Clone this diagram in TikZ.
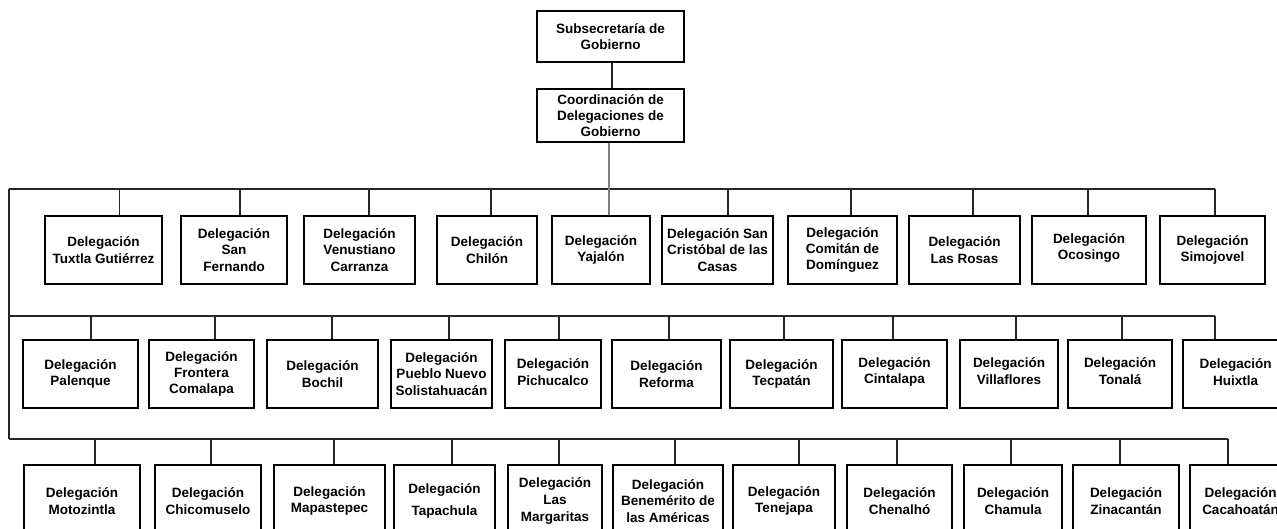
\documentclass[tikz,border=0pt]{standalone}
\usepackage{fontspec}
\setmainfont{Liberation Sans}
\begin{document}
\begin{tikzpicture}[x=1pt,y=-1pt,
  box/.style={draw=black, line width=1.6pt, fill=white, align=center, inner sep=0pt, text=black},
  label/.style={font=\bfseries\fontsize{13.5}{16.4}\selectfont, align=center, inner sep=0pt, text=black},
  conn/.style={draw=black!85, line width=1.3pt},
  graylink/.style={draw=black!50, line width=1.2pt}]
\useasboundingbox (0,0) rectangle (1277,529);
\clip (0,0) rectangle (1277,529);
% top boxes
\node[box, font=\bfseries\fontsize{13.5}{16.2}\selectfont, minimum width=147pt, minimum height=51pt] (sub) at (610.5,36.5) {Subsecretaría de\\Gobierno};
\node[box, font=\bfseries\fontsize{13.5}{16.2}\selectfont, minimum width=147pt, minimum height=53pt] (coord) at (610.5,115.5) {Coordinación de\\Delegaciones de\\Gobierno};
\draw[conn] ([xshift=1.5pt]sub.south) -- ([xshift=1.5pt]coord.north);
% buses
\coordinate (busL1) at (9,189);  \coordinate (busR1) at (1215,189);
\coordinate (busL2) at (9,316);  \coordinate (busR2) at (1215,316);
\coordinate (busL3) at (9,439);  \coordinate (busR3) at (1228,439);
\draw[conn] (busL1) -- (busR1);
\draw[conn] (busL2) -- (busR2);
\draw[conn] (busL3) -- (busR3);
\draw[conn] (busL1) -- (busL3);
% row 1
\foreach \n/\l/\r/\dy/\t in {
 r1a/45/162/0/{Delegación\\Tuxtla Gutiérrez},
 r1b/181/287/0/{Delegación\\San\\Fernando},
 r1c/304/415/0/{Delegación\\Venustiano\\Carranza},
 r1d/437/537/0/{Delegación\\Chilón},
 r1e/552/650/0/{Delegación\\Yajalón},
 r1f/662/773/0/{Delegación San\\Cristóbal de las\\Casas},
 r1g/788/897/0/{Delegación\\Comitán de\\Domínguez},
 r1h/909/1020/0/{Delegación\\Las Rosas},
 r1i/1032/1146/-2/{Delegación\\Ocosingo},
 r1j/1160/1265/0/{Delegación\\Simojovel}}{
  \node[box, minimum width={(\r-\l)*1pt}, minimum height=68pt] (\n) at ({(\l+\r)/2},250) {};
  \node[label] at ([yshift=-\dy pt]\n.center) {\t};
}
\foreach \n/\c in {r1a/119.5,r1b/240,r1c/369,r1d/491,r1f/728,r1g/851,r1h/973,r1i/1088,r1j/1215}{
  \coordinate (\n c) at (\c,189);
  \draw[conn] (\n c) -- (\n c |- \n.north);
}
\coordinate (cdown) at ([xshift=-1.5pt]coord.south);
\draw[graylink] (cdown) -- (cdown |- r1e.north);
% row 2
\foreach \n/\l/\r/\c/\dy/\t in {
 r2a/23/138/91/0/{Delegación\\Palenque},
 r2b/149/254/215/0/{Delegación\\Frontera\\Comalapa},
 r2c/267/378/332/0/{Delegación\\Bochil},
 r2d/391/492/449/0/{Delegación\\Pueblo Nuevo\\Solistahuacán},
 r2e/505/601/559/-2/{Delegación\\Pichucalco},
 r2f/612/721/669/0/{Delegación\\Reforma},
 r2g/730/833/784/0/{Delegación\\Tecpatán},
 r2h/842/947/893/-2/{Delegación\\Cintalapa},
 r2i/960/1058/1016/-3/{Delegación\\Villaflores},
 r2j/1068/1172/1122/-3/{Delegación\\Tonalá},
 r2k/1183/1288/1215/-2/{Delegación\\Huixtla}}{
  \node[box, minimum width={(\r-\l)*1pt}, minimum height=68pt] (\n) at ({(\l+\r)/2},374) {};
  \node[label] at ([yshift=-\dy pt]\n.center) {\t};
  \coordinate (\n c) at (\c,316);
  \draw[conn] (\n c) -- (\n c |- \n.north);
}
% row 3
\foreach \n/\l/\r/\c/\t in {
 r3a/24/140/95/{Delegación\\Motozintla},
 r3b/155/261/211/{Delegación\\Chicomuselo},
 r3c/274/385/334/{Delegación\\Mapastepec},
 r3d/394/495/452/{Delegación\\[6pt]Tapachula},
 r3e/508/602/559/{Delegación\\Las\\Margaritas},
 r3f/613/723/675/{Delegación\\Benemérito de\\las Américas},
 r3g/733/835/799/{Delegación\\Tenejapa},
 r3h/847/952/897/{Delegación\\Chenalhó},
 r3i/964/1062/1011/{Delegación\\Chamula},
 r3j/1073/1179/1120/{Delegación\\Zinacantán},
 r3k/1190/1291/1228/{Delegación\\Cacahoatán}}{
  \node[box, font=\bfseries\fontsize{13.5}{16.7}\selectfont, minimum width={(\r-\l)*1pt}, minimum height=72pt] (\n) at ({(\l+\r)/2},501) {\t};
  \coordinate (\n c) at (\c,439);
  \draw[conn] (\n c) -- (\n c |- \n.north);
}
\end{tikzpicture}
\end{document}
